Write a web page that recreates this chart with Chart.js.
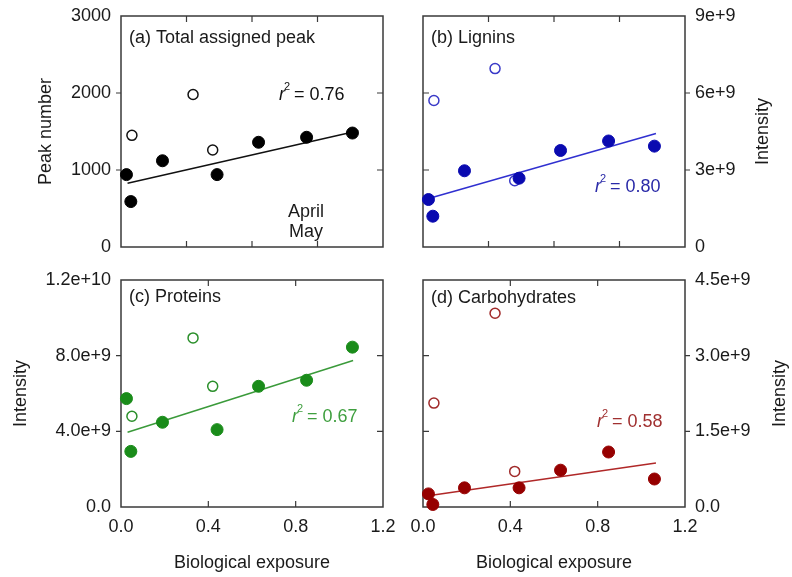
<!DOCTYPE html>
<html>
<head>
<meta charset="utf-8">
<title>Biological exposure panels</title>
<script src="https://cdn.jsdelivr.net/npm/chart.js@4"></script>
<style>
    body { margin: 0; background: #fff; }
    #wrap { position: relative; width: 792px; height: 577px; background: #fff; }
    #wrap canvas { position: absolute; }
</style>
</head>
<body>
<div id="wrap">
    <canvas id="chartA" width="396" height="262" style="left:0;top:0;width:396px;height:262px"></canvas>
    <canvas id="chartB" width="396" height="262" style="left:396px;top:0;width:396px;height:262px"></canvas>
    <canvas id="chartC" width="396" height="315" style="left:0;top:262px;width:396px;height:315px"></canvas>
    <canvas id="chartD" width="396" height="315" style="left:396px;top:262px;width:396px;height:315px"></canvas>
</div>
<script>
// 数据 (open = April, filled = May)
var exposureApril = [0.05, 0.33, 0.42];
var exposureMay = [0.025, 0.045, 0.19, 0.44, 0.63, 0.85, 1.06];

var peakApril = [1450, 1980, 1260];
var peakMay = [940, 590, 1120, 940, 1360, 1425, 1480];
var peakFitX = [0.03, 1.087];
var peakFitY = [827, 1510];

var ligninApril = [5.71e9, 6.95e9, 2.58e9];
var ligninMay = [1.85e9, 1.2e9, 2.97e9, 2.68e9, 3.76e9, 4.13e9, 3.93e9];
var ligninFitX = [0.01, 1.067];
var ligninFitY = [1.85e9, 4.42e9];

var proteinApril = [4.8e9, 8.94e9, 6.38e9];
var proteinMay = [5.73e9, 2.94e9, 4.48e9, 4.09e9, 6.38e9, 6.7e9, 8.45e9];
var proteinFitX = [0.03, 1.063];
var proteinFitY = [3.95e9, 7.74e9];

var carbApril = [2.06e9, 3.84e9, 0.705e9];
var carbMay = [0.26e9, 0.05e9, 0.38e9, 0.38e9, 0.73e9, 1.09e9, 0.555e9];
var carbFitX = [0.0, 1.067];
var carbFitY = [0.21e9, 0.87e9];

// 刻度标签
var xTickLabels = ['0.0', '0.4', '0.8', '1.2'];
var peakTickLabels = ['0', '1000', '2000', '3000'];
var ligninTickLabels = ['0', '3e+9', '6e+9', '9e+9'];
var proteinTickLabels = ['0.0', '4.0e+9', '8.0e+9', '1.2e+10'];
var carbTickLabels = ['0.0', '1.5e+9', '3.0e+9', '4.5e+9'];
var legendLabels = ['April', 'May'];

var FONT = "'Liberation Sans', Arial, sans-serif";
Chart.defaults.font.family = FONT;
Chart.defaults.font.size = 18;
Chart.defaults.color = '#1a1a1a';

function toPoints(xs, ys) {
    var pts = [];
    for (var i = 0; i < xs.length; i++) {
        pts.push({ x: xs[i], y: ys[i] });
    }
    return pts;
}

// 边框、刻度线和文字
var panelDecor = {
    id: 'panelDecor',
    beforeDatasetsDraw: function(chart, args, o) {
        var ctx = chart.ctx;
        var a = chart.chartArea;
        var xs = chart.scales.x;
        var ys = chart.scales.y;
        ctx.save();
        ctx.strokeStyle = '#3a3a3a';
        ctx.lineWidth = 1.5;
        ctx.strokeRect(a.left, a.top, a.right - a.left, a.bottom - a.top);
        ctx.lineWidth = 1.2;
        ctx.beginPath();
        xs.ticks.forEach(function(t) {
            if (t.value <= xs.min + 1e-9 || t.value >= xs.max - 1e-9) return;
            var px = xs.getPixelForValue(t.value);
            ctx.moveTo(px, a.bottom);
            ctx.lineTo(px, a.bottom - 6);
            ctx.moveTo(px, a.top);
            ctx.lineTo(px, a.top + 6);
        });
        ys.ticks.forEach(function(t) {
            if (t.value <= ys.min || t.value >= ys.max * 0.999) return;
            var py = ys.getPixelForValue(t.value);
            if (o.side === 'left') {
                ctx.moveTo(a.left - 5, py);
                ctx.lineTo(a.left, py);
                ctx.moveTo(a.right, py);
                ctx.lineTo(a.right - 6, py);
            } else {
                ctx.moveTo(a.right + 5, py);
                ctx.lineTo(a.right, py);
                ctx.moveTo(a.left, py);
                ctx.lineTo(a.left + 6, py);
            }
        });
        ctx.stroke();
        ctx.restore();
    },
    afterDraw: function(chart, args, o) {
        var ctx = chart.ctx;
        var a = chart.chartArea;
        var xs = chart.scales.x;
        var ys = chart.scales.y;
        ctx.save();
        ctx.textBaseline = 'middle';
        ctx.textAlign = 'left';

        // 面板标题
        ctx.fillStyle = '#1a1a1a';
        ctx.font = '18px ' + FONT;
        ctx.fillText(o.title, a.left + 8, a.top + o.titleDy);

        // r^2
        var rx = xs.getPixelForValue(o.r2x);
        var ry = ys.getPixelForValue(o.r2y);
        ctx.fillStyle = o.r2Color;
        ctx.font = 'italic 18px ' + FONT;
        ctx.fillText('r', rx, ry);
        var w = ctx.measureText('r').width;
        ctx.font = '11px ' + FONT;
        ctx.fillText('2', rx + w - 1, ry - 8);
        ctx.font = '18px ' + FONT;
        ctx.fillText('= ' + o.r2, rx + w + 9, ry);

        // 图例文字
        if (o.legend) {
            ctx.fillStyle = '#1a1a1a';
            ctx.textAlign = 'center';
            for (var i = 0; i < legendLabels.length; i++) {
                ctx.fillText(legendLabels[i], a.left + 185, a.top + 196 + i * 20);
            }
        }

        // 右侧轴标题
        if (o.rightTitle) {
            ctx.fillStyle = '#1a1a1a';
            ctx.textAlign = 'center';
            ctx.translate(o.rightTitleX, (a.top + a.bottom) / 2);
            ctx.rotate(-Math.PI / 2);
            ctx.fillText(o.rightTitle, 0, 0);
        }
        ctx.restore();
    }
};

function makePanel(id, p) {
    var canvas = document.getElementById(id);
    var isLeft = p.side === 'left';
    return new Chart(canvas, {
        type: 'scatter',
        data: {
            datasets: [{
                type: 'line',
                data: toPoints(p.fitX, p.fitY),
                borderColor: p.lineColor,
                borderWidth: 1.5,
                pointRadius: 0,
                fill: false,
                order: 3
            }, {
                data: toPoints(exposureApril, p.april),
                pointRadius: 5,
                pointBorderWidth: 1.5,
                pointBorderColor: p.openColor,
                pointBackgroundColor: 'rgba(255,255,255,0)',
                order: 2
            }, {
                data: toPoints(exposureMay, p.may),
                pointRadius: 6,
                pointBorderWidth: 1,
                pointBorderColor: p.pointColor,
                pointBackgroundColor: p.pointColor,
                order: 1
            }]
        },
        options: {
            responsive: false,
            animation: false,
            devicePixelRatio: 1,
            clip: false,
            events: [],
            layout: { padding: p.padding },
            plugins: {
                legend: { display: false },
                tooltip: { enabled: false },
                panelDecor: {
                    side: p.side,
                    title: p.title,
                    titleDy: p.titleDy,
                    r2: p.r2,
                    r2x: p.r2x,
                    r2y: p.r2y,
                    r2Color: p.r2Color,
                    legend: p.legend,
                    rightTitle: isLeft ? null : 'Intensity',
                    rightTitleX: p.rightTitleX
                }
            },
            scales: {
                x: {
                    type: 'linear',
                    min: 0,
                    max: 1.2,
                    grid: { display: false, drawTicks: false },
                    border: { display: false },
                    ticks: {
                        display: p.showX,
                        stepSize: p.xStep,
                        padding: 9,
                        autoSkip: false,
                        maxRotation: 0,
                        callback: function(v) {
                            return xTickLabels[Math.round(v / 0.4)];
                        }
                    },
                    title: {
                        display: p.showX,
                        text: 'Biological exposure',
                        padding: { top: 0, bottom: 3 }
                    },
                    afterFit: function(s) {
                        s.height = p.xHeight;
                        // 不让边缘标签挤压绘图区
                        s.paddingLeft = 0;
                        s.paddingRight = 0;
                    }
                },
                y: {
                    type: 'linear',
                    position: p.side,
                    min: 0,
                    max: p.yMax,
                    grid: { display: false, drawTicks: false },
                    border: { display: false },
                    ticks: {
                        stepSize: p.yStep,
                        padding: 10,
                        callback: function(v) {
                            return p.yLabels[Math.round(v / p.yStep)];
                        }
                    },
                    title: {
                        display: isLeft,
                        text: p.yTitle,
                        padding: { top: p.yTitlePad, bottom: 0 }
                    },
                    afterFit: function(s) {
                        s.width = p.yWidth;
                        s.paddingTop = 0;
                        s.paddingBottom = 0;
                    }
                }
            }
        },
        plugins: [panelDecor]
    });
}

makePanel('chartA', {
    side: 'left', title: '(a) Total assigned peak', titleDy: 22,
    april: peakApril, may: peakMay, fitX: peakFitX, fitY: peakFitY,
    pointColor: '#000000', openColor: '#111111', lineColor: '#111111',
    yMax: 3000, yStep: 1000, yLabels: peakTickLabels, yTitle: 'Peak number', yTitlePad: 35,
    xStep: 0.3, showX: false, xHeight: 15, yWidth: 121,
    padding: { left: 0, right: 13, top: 16, bottom: 0 },
    r2: '0.76', r2x: 0.724, r2y: 1974, r2Color: '#111111', legend: true
});

makePanel('chartB', {
    side: 'right', title: '(b) Lignins', titleDy: 22,
    april: ligninApril, may: ligninMay, fitX: ligninFitX, fitY: ligninFitY,
    pointColor: '#0a0ab0', openColor: '#3a3ac8', lineColor: '#3030d0',
    yMax: 9e9, yStep: 3e9, yLabels: ligninTickLabels,
    xStep: 0.3, showX: false, xHeight: 15, yWidth: 107, rightTitleX: 367,
    padding: { left: 27, right: 0, top: 16, bottom: 0 },
    r2: '0.80', r2x: 0.788, r2y: 2.33e9, r2Color: '#2a2aa8', legend: false
});

makePanel('chartC', {
    side: 'left', title: '(c) Proteins', titleDy: 17,
    april: proteinApril, may: proteinMay, fitX: proteinFitX, fitY: proteinFitY,
    pointColor: '#1a8c1a', openColor: '#2a8f2a', lineColor: '#3a9a3a',
    yMax: 1.2e10, yStep: 4e9, yLabels: proteinTickLabels, yTitle: 'Intensity', yTitlePad: 10,
    xStep: 0.4, showX: true, xHeight: 70, yWidth: 121,
    padding: { left: 0, right: 13, top: 18, bottom: 0 },
    r2: '0.67', r2x: 0.783, r2y: 4.78e9, r2Color: '#3f9f3f', legend: false
});

makePanel('chartD', {
    side: 'right', title: '(d) Carbohydrates', titleDy: 18,
    april: carbApril, may: carbMay, fitX: carbFitX, fitY: carbFitY,
    pointColor: '#960000', openColor: '#a02a2a', lineColor: '#b02828',
    yMax: 4.5e9, yStep: 1.5e9, yLabels: carbTickLabels,
    xStep: 0.4, showX: true, xHeight: 70, yWidth: 107, rightTitleX: 384,
    padding: { left: 27, right: 0, top: 18, bottom: 0 },
    r2: '0.58', r2x: 0.797, r2y: 1.69e9, r2Color: '#a03030', legend: false
});
</script>
</body>
</html>
